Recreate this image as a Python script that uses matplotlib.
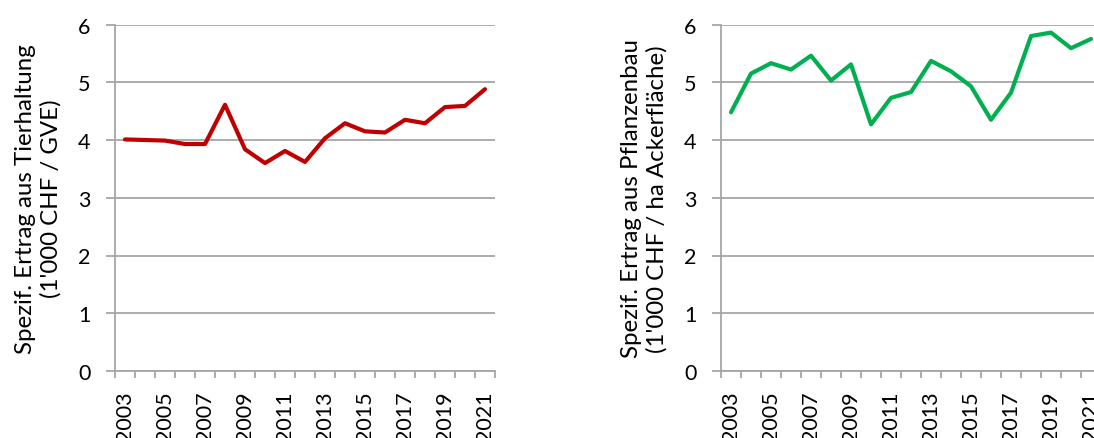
import matplotlib
matplotlib.use("Agg")
import matplotlib.pyplot as plt
import numpy as np

years = list(range(2003, 2022))
tierhaltung = [4.01, 4.00, 3.99, 3.93, 3.93, 4.61, 3.84, 3.60, 3.81, 3.62,
               4.03, 4.29, 4.15, 4.13, 4.35, 4.29, 4.57, 4.59, 4.88]
pflanzenbau = [4.48, 5.15, 5.33, 5.22, 5.46, 5.03, 5.31, 4.27, 4.73, 4.83,
               5.37, 5.19, 4.93, 4.35, 4.82, 5.80, 5.86, 5.59, 5.75]
label_left = "Spezif. Ertrag aus Tierhaltung\n(1'000 CHF / GVE)"
label_right = "Spezif. Ertrag aus Pflanzenbau\n(1'000 CHF / ha Ackerfläche)"

plt.rcParams['font.family'] = ['Lato', 'DejaVu Sans']
GRID = '#a6a6a6'
FS = 15.5

fig = plt.figure(figsize=(10.94, 4.39), dpi=100)
W, H = 1094, 439


def make_axes(left_px):
    return fig.add_axes([left_px / W, (H - 372) / H, 380 / W, 346.5 / H])


def style(ax, values, color, ylabel):
    x = np.arange(len(years))
    ax.plot(x, values, color=color, lw=3.0, solid_capstyle='round',
            solid_joinstyle='round', zorder=3)
    ax.set_xlim(-0.5, len(years) - 0.5)
    ax.set_ylim(0, 6)
    ax.set_yticks(range(0, 7))
    ax.yaxis.grid(True, color=GRID, lw=1.3)
    ax.set_axisbelow(True)
    for s in ('top', 'right'):
        ax.spines[s].set_visible(False)
    for s in ('left', 'bottom'):
        ax.spines[s].set_color(GRID)
        ax.spines[s].set_linewidth(1.3)
    ax.set_xticks(x[::2])
    ax.set_xticklabels([str(y) for y in years[::2]], rotation=90)
    ax.set_xticks(np.arange(-0.5, len(years), 1.0), minor=True)
    ax.tick_params(axis='x', which='major', length=0, pad=14, labelsize=FS)
    ax.tick_params(axis='x', which='minor', length=5, width=1.3, color=GRID)
    ax.tick_params(axis='y', length=6.5, width=1.3, color=GRID, pad=11,
                   labelsize=FS)
    ax.set_ylabel(ylabel, fontsize=17.3, linespacing=1.25, labelpad=12)


ax1 = make_axes(115)
style(ax1, tierhaltung, '#c00000', label_left)
ax2 = make_axes(721)
style(ax2, pflanzenbau, '#00b050', label_right)

fig.savefig('out.png', dpi=100)
